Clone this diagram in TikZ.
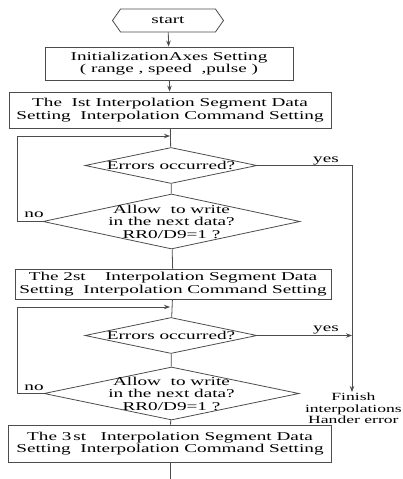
\documentclass[tikz,border=0pt]{standalone}
\usepackage{fontspec}
\setmainfont{Liberation Serif}[FakeStretch=1.6]
\usetikzlibrary{shapes.geometric,shapes.symbols,arrows.meta}

\begin{document}
\begin{tikzpicture}[x=1pt, y=-1pt,
  every node/.style={font=\fontsize{12}{12.5}\selectfont, align=center, inner sep=0pt},
  box/.style={draw=black!70, line width=0.8pt},
  decision/.style={draw=black!70, line width=0.8pt, diamond},
  line/.style={draw=black!70, line width=0.8pt},
  arrow/.style={line, -{Stealth[length=6pt,width=4.5pt]}}
]
  \useasboundingbox (0,0) rectangle (403,479);
  % main column
  \node[box, signal, signal to=west and east, signal pointer angle=110,
        minimum width=111pt, minimum height=23pt] (start) at (168,20.5) {start};
  \node[box, minimum width=248pt, minimum height=33pt] (init) at (169,63.5)
    {InitializationAxes Setting\\( range , speed\ \ ,pulse )};
  \node[box, minimum width=322pt, minimum height=36pt] (seg1) at (170,110)
    {The\ \ Ist Interpolation Segment Data\\Setting\ \ Interpolation Command Setting};
  \node[decision, minimum width=172pt, minimum height=36pt,
        label={center:Errors occurred?}] (err1) at (171,165.5) {};
  \node[decision, minimum width=257pt, minimum height=55pt,
        label={center:Allow\ \ to write\\in the next data?\\RR0/D9=1 ?}] (wr1) at (171.5,221.5) {};
  \node[box, minimum width=316pt, minimum height=30pt] (seg2) at (173,284)
    {The 2st\ \ \ \ Interpolation Segment Data\\Setting\ \ Interpolation Command Setting};
  \node[decision, minimum width=172pt, minimum height=36pt,
        label={center:Errors occurred?}] (err2) at (171,335.5) {};
  \node[decision, minimum width=255pt, minimum height=53pt,
        label={center:Allow\ \ to write\\in the next data?\\RR0/D9=1 ?}] (wr2) at (171.5,393.5) {};
  \node[box, minimum width=323pt, minimum height=37pt] (seg3) at (170,443.5)
    {The 3\,st\ \ \ Interpolation Segment Data\\Setting\ \ Interpolation Command Setting};
  \node[anchor=north east, font=\fontsize{11}{11.5}\selectfont] (fin) at (402,393)
    {Finish\\interpolations\\Hander error};
  % labels
  \node (yes1) at (326,161) {yes};
  \node (yes2) at (326,330) {yes};
  \node (no1) at (34,215) {no};
  \node (no2) at (34,388) {no};
  % free ends
  \coordinate (in1) at (170,136);
  \coordinate (in2) at (170,307);
  \coordinate (lp1) at (17,221.5);
  \coordinate (lp2) at (17,393.5);
  \coordinate (rt1) at (352,165.5);
  \coordinate (rt2) at (352,335.5);
  \coordinate (fintop) at (352,392);
  \coordinate (end) at (170,479);

  \foreach \i/\j in {start/init,init/seg1} \draw[arrow] (\i) -- (\j);
  \foreach \i/\j in {seg1/err1,err1/wr1,wr1/seg2,seg2/err2,err2/wr2,wr2/seg3} \draw[line] (\i) -- (\j);
  \draw[line] (seg3) -- (end);
  \draw[arrow] (wr1.west) -- (lp1) |- (in1);
  \draw[arrow] (wr2.west) -- (lp2) |- (in2);
  \draw[arrow] (err1.east) -- (rt1) -- (fintop);
  \draw[arrow] (err2.east) -- (rt2);
\end{tikzpicture}
\end{document}
